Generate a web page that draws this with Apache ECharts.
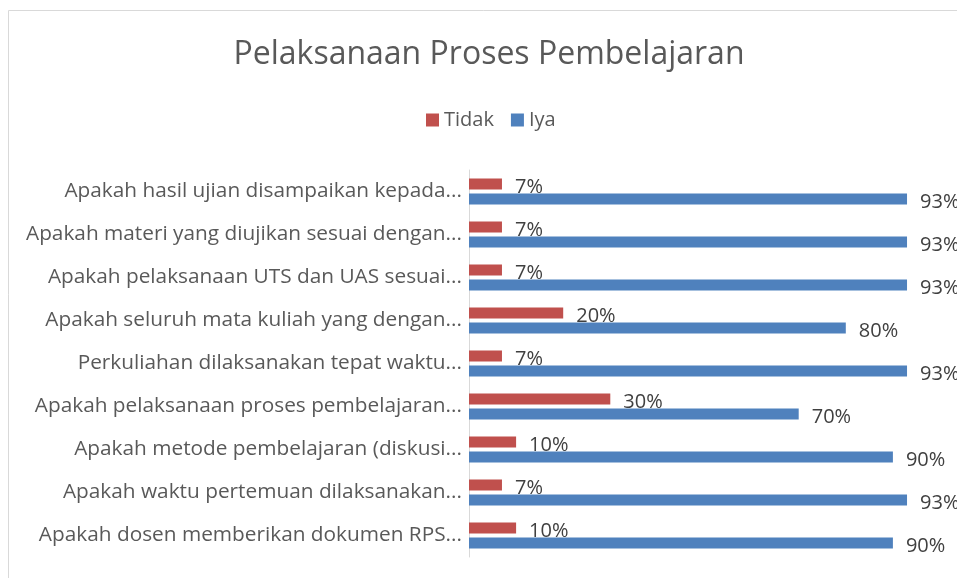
<!DOCTYPE html>
<html>
<head>
<meta charset="utf-8">
<script src="https://cdn.jsdelivr.net/npm/echarts@6/dist/echarts.min.js"></script>
<style>
  html, body { margin: 0; padding: 0; background: #fff; }
  #main { width: 957px; height: 578px; }
</style>
</head>
<body>
<div id="main"></div>
<script>
// urutan dari atas ke bawah seperti di gambar
var categories = [
  'Apakah hasil ujian disampaikan kepada...',
  'Apakah materi yang diujikan sesuai dengan...',
  'Apakah pelaksanaan UTS dan UAS sesuai...',
  'Apakah seluruh mata kuliah yang dengan...',
  'Perkuliahan dilaksanakan tepat waktu...',
  'Apakah pelaksanaan proses pembelajaran...',
  'Apakah metode pembelajaran (diskusi...',
  'Apakah waktu pertemuan dilaksanakan...',
  'Apakah dosen memberikan dokumen RPS...'
];
var tidak = [7, 7, 7, 20, 7, 30, 10, 7, 10];
var iya = [93, 93, 93, 80, 93, 70, 90, 93, 90];

var font = 'Open Sans';
var textColor = '#595959';

var chartDom = document.getElementById('main');
var myChart = echarts.init(chartDom);

var labelStyle = {
  show: true,
  position: 'right',
  distance: 13,
  offset: [0, 3],
  formatter: '{c}%',
  color: '#404040',
  fontFamily: font,
  fontSize: 20
};

myChart.setOption({
  animation: false,
  title: {
    text: 'Pelaksanaan Proses Pembelajaran',
    left: 484,
    textAlign: 'center',
    top: 34,
    textStyle: { fontFamily: font, fontSize: 32, fontWeight: 'normal', color: textColor }
  },
  legend: {
    data: ['Tidak', 'Iya'],
    top: 105,
    left: 421,
    itemWidth: 13,
    itemHeight: 13,
    itemGap: 17,
    icon: 'rect',
    textStyle: { fontFamily: font, fontSize: 20, color: textColor }
  },
  graphic: [{
    type: 'rect',
    shape: { x: 8.5, y: 10.5, width: 1000, height: 700 },
    style: { fill: null, stroke: '#d9d9d9', lineWidth: 1 },
    silent: true
  }],
  grid: { left: 469, top: 170, width: 471, height: 387 },
  xAxis: {
    type: 'value',
    min: 0,
    max: 100,
    show: false
  },
  yAxis: {
    type: 'category',
    data: categories,
    inverse: true,
    axisLine: { lineStyle: { color: '#d9d9d9' } },
    axisTick: { show: false },
    axisLabel: { fontFamily: font, fontSize: 20.8, color: textColor, margin: 7 }
  },
  series: [
    {
      name: 'Tidak',
      type: 'bar',
      data: tidak,
      barWidth: 11,
      barGap: '35%',
      itemStyle: { color: '#c0504d' },
      label: labelStyle
    },
    {
      name: 'Iya',
      type: 'bar',
      data: iya,
      barWidth: 11,
      barGap: '35%',
      itemStyle: { color: '#4f81bd' },
      label: labelStyle
    }
  ]
});
window.onresize = function () { myChart.resize(); };
</script>
</body>
</html>
